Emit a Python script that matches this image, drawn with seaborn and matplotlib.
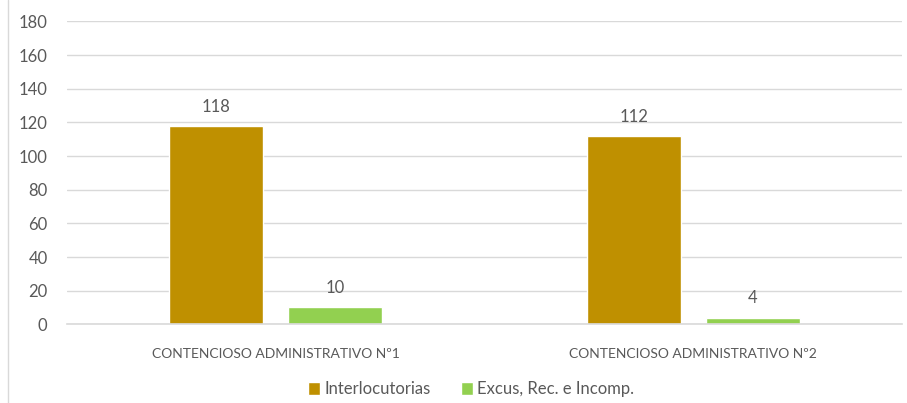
import matplotlib
matplotlib.use("Agg")
import matplotlib.pyplot as plt
import seaborn as sns
import pandas as pd
from matplotlib.lines import Line2D

juzgados = ["CONTENCIOSO ADMINISTRATIVO Nº1", "CONTENCIOSO ADMINISTRATIVO Nº2"]
series = ["Interlocutorias", "Excus, Rec. e Incomp."]
interlocutorias = [118, 112]
excusaciones = [10, 4]
colores = ["#BF9000", "#92D050"]

df = pd.DataFrame({
    "juzgado": juzgados * 2,
    "serie": [series[0]] * 2 + [series[1]] * 2,
    "valor": interlocutorias + excusaciones,
})

sns.set_style("white")
plt.rcParams["font.family"] = ["Lato", "DejaVu Sans"]
gris = "#595959"

fig = plt.figure(figsize=(9.07, 4.03), dpi=100)
ax = fig.add_axes([0.0739, 0.1953, 0.9206, 0.7514])

sns.barplot(data=df, x="juzgado", y="valor", hue="serie", palette=colores,
            width=0.57, gap=0.21, saturation=1, ax=ax, legend=True)

for cont in ax.containers:
    ax.bar_label(cont, padding=8, fontsize=12, color=gris)

ax.set_xlim(-0.5, 1.5)
ax.set_ylim(0, 180)
ax.set_yticks(range(0, 181, 20))
ax.yaxis.grid(True, color="#D9D9D9", linewidth=1)
ax.set_axisbelow(True)
for s in ["top", "right", "left"]:
    ax.spines[s].set_visible(False)
ax.spines["bottom"].set_color("#D9D9D9")
ax.spines["bottom"].set_linewidth(1.2)
ax.tick_params(axis="both", length=0, labelsize=12, labelcolor=gris)
ax.tick_params(axis="y", pad=14)
ax.tick_params(axis="x", pad=17, labelsize=10)
ax.set_xlabel("")
ax.set_ylabel("")

ax.legend(loc="center", bbox_to_anchor=(0.484, -0.215), ncol=2, frameon=False,
          fontsize=12, labelcolor=gris, handlelength=0.75, handleheight=0.75,
          handletextpad=0.25, columnspacing=1.8)

fig.add_artist(Line2D([7.5 / 907, 7.5 / 907], [0, 1], color="#D9D9D9", linewidth=1,
                      transform=fig.transFigure))

fig.savefig("out.png", dpi=100)
